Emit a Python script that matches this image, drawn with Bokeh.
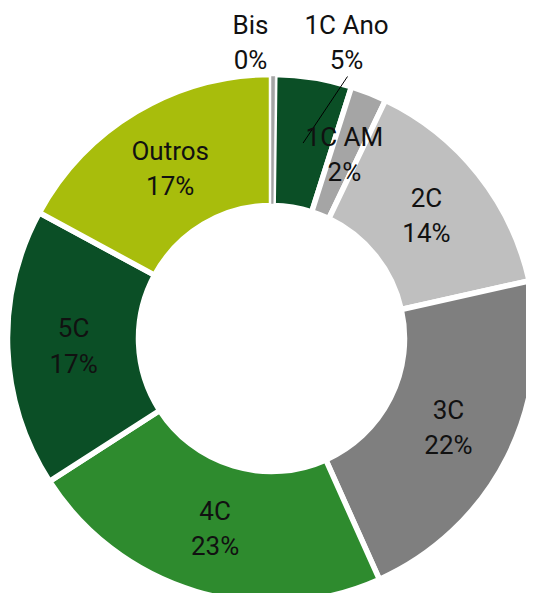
import math
from bokeh.plotting import figure
from bokeh.models import ColumnDataSource, Range1d
from bokeh.core.properties import value
from bokeh.embed import file_html
from bokeh.resources import INLINE

# ---- data ----
categories = ["Bis", "1C Ano", "1C AM", "2C", "3C", "4C", "5C", "Outros"]
shares = [0.2, 4.7, 2.2, 14.4, 21.8, 22.6, 17.0, 17.1]
labels_pct = ["0%", "5%", "2%", "14%", "22%", "23%", "17%", "17%"]
colors = ["#A5A5A5", "#0B4F26", "#A5A5A5", "#BFBFBF", "#7F7F7F",
          "#2E8B2E", "#0B4F26", "#A8BD0C"]

# labels moved outside the ring (anchor in chart units, relative to centre)
outside_labels = {"Bis": (-21, 296), "1C Ano": (75, 296)}

R_OUT, R_IN = 264, 133
R_MID = (262 + 134) / 2

total = sum(shares)
starts, ends, mids = [], [], []
c = 0.0
for s in shares:
    a0 = math.pi / 2 - 2 * math.pi * c / total
    c += s
    a1 = math.pi / 2 - 2 * math.pi * c / total
    starts.append(a0)
    ends.append(a1)
    mids.append((a0 + a1) / 2)

lx, ly, ltxt = [], [], []
lead_x0, lead_y0, lead_x1, lead_y1 = [], [], [], []
for cat, pct, m in zip(categories, labels_pct, mids):
    dx, dy = R_MID * math.cos(m), R_MID * math.sin(m)
    if cat in outside_labels:
        ox, oy = outside_labels[cat]
        lx.append(ox)
        ly.append(oy)
        if cat == "1C Ano":
            lead_x0.append(ox + 1)
            lead_y0.append(oy - 34)
            lead_x1.append(dx)
            lead_y1.append(dy)
    else:
        lx.append(dx)
        ly.append(dy)
    ltxt.append(f"{cat}\n{pct}")

src = ColumnDataSource(dict(cat=categories, start=starts, end=ends, color=colors))
bis_idx = categories.index("Bis")
src_bis = ColumnDataSource(dict(start=[starts[bis_idx]], end=[ends[bis_idx]],
                                color=[colors[bis_idx]]))
lab = ColumnDataSource(dict(x=lx, y=ly, t=ltxt))

W, H = 526, 593
CX, CY = 271, 338
p = figure(width=W, height=H, output_backend="svg", toolbar_location=None,
           x_range=Range1d(-CX, W - CX),
           y_range=Range1d(CY - H, CY),
           min_border=0)
p.axis.visible = False
p.grid.visible = False
p.outline_line_color = None
p.background_fill_color = "white"

p.annular_wedge(x=0, y=0, inner_radius=R_IN, outer_radius=R_OUT,
                start_angle="start", end_angle="end", direction="clock",
                fill_color="color", line_color="white", line_width=5.5,
                source=src)
p.annular_wedge(x=0, y=0, inner_radius=R_IN + 2, outer_radius=R_OUT - 2,
                start_angle="start", end_angle="end", direction="clock",
                fill_color="color", line_color="color", line_width=0.5,
                source=src_bis)

p.segment(x0=lead_x0, y0=lead_y0, x1=lead_x1, y1=lead_y1,
          line_color="black", line_width=1)

p.text(x="x", y="y", text="t", source=lab, text_align="center",
       text_baseline="middle", text_font=value("Roboto"),
       text_font_size="26px", text_color="#111111", text_line_height=1.17)

open("out.html", "w").write(file_html(p, INLINE))
